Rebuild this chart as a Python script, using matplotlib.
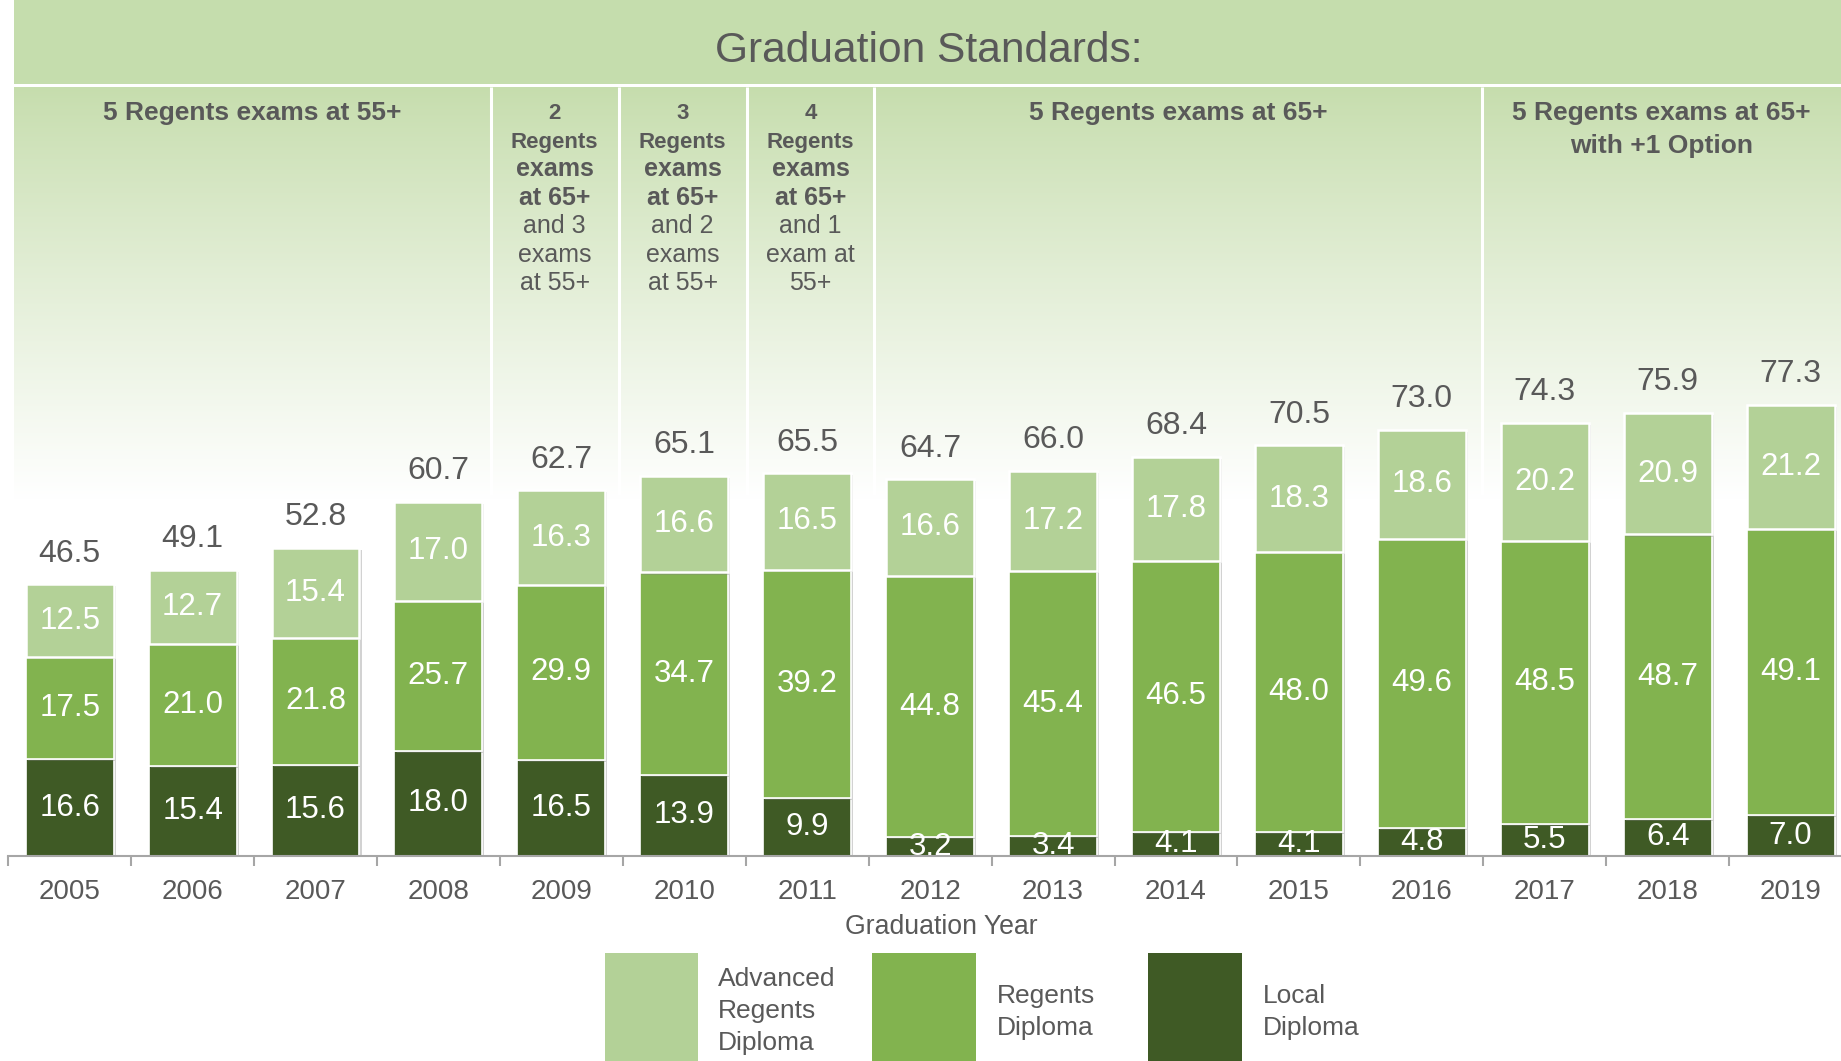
import numpy as np
import matplotlib
matplotlib.use("Agg")
import matplotlib.pyplot as plt
from matplotlib.patches import Rectangle
from matplotlib import patheffects as pe

# ----------------- data -----------------
years = [2005, 2006, 2007, 2008, 2009, 2010, 2011, 2012, 2013, 2014, 2015, 2016, 2017, 2018, 2019]
local_diploma = [16.6, 15.4, 15.6, 18.0, 16.5, 13.9, 9.9, 3.2, 3.4, 4.1, 4.1, 4.8, 5.5, 6.4, 7.0]
regents_diploma = [17.5, 21.0, 21.8, 25.7, 29.9, 34.7, 39.2, 44.8, 45.4, 46.5, 48.0, 49.6, 48.5, 48.7, 49.1]
advanced_diploma = [12.5, 12.7, 15.4, 17.0, 16.3, 16.6, 16.5, 16.6, 17.2, 17.8, 18.3, 18.6, 20.2, 20.9, 21.2]
totals = [46.5, 49.1, 52.8, 60.7, 62.7, 65.1, 65.5, 64.7, 66.0, 68.4, 70.5, 73.0, 74.3, 75.9, 77.3]

series_names = ["Advanced\nRegents\nDiploma", "Regents\nDiploma", "Local\nDiploma"]

title_text = "Graduation Standards:"
wide_headers = ["5 Regents exams at 55+", "5 Regents exams at 65+", "5 Regents exams at 65+\nwith +1 Option"]
narrow_headers = [
    (["2", "Regents", "exams", "at 65+"], ["and 3", "exams", "at 55+"]),
    (["3", "Regents", "exams", "at 65+"], ["and 2", "exams", "at 55+"]),
    (["4", "Regents", "exams", "at 65+"], ["and 1", "exam at", "55+"]),
]

# ----------------- style -----------------
plt.rcParams['font.family'] = ['Liberation Sans', 'DejaVu Sans']
c_adv = '#b3d197'
c_reg = '#82b34f'
c_loc = '#3f5a25'
c_band = '#c5ddad'
c_text = '#595959'

W, H = 1841, 1061
base_px = 856          # baseline row in pixels
px_per_unit = 5.835    # vertical pixels per percentage point

fig = plt.figure(figsize=(W / 100, H / 100), dpi=100)
ax = fig.add_axes([8.2 / W, (H - base_px) / H, 1 - 8.2 / W, base_px / H])
xmax = 14.41
ytop = base_px / px_per_unit
ax.set_xlim(-0.5, xmax)
ax.set_ylim(0, ytop)

def py(row):
    # pixel row -> data y
    return (base_px - row) / px_per_unit

# header band
band_left = -0.451
ax.add_patch(Rectangle((band_left, py(84)), xmax - band_left + 0.2, py(0) - py(84),
                       color=c_band, zorder=0, clip_on=False, lw=0))

# gradient cells under header, fading out to white
top_rgb = np.array([198, 221, 173]) / 255
bot_rgb = np.array([255, 255, 255]) / 255
t = np.linspace(0, 1, 256)[:, None] ** 0.9
grad = (top_rgb[None, :] * (1 - t) + bot_rgb[None, :] * t)[:, None, :]
ax.imshow(grad, extent=[band_left, xmax + 0.2, py(500), py(87)], aspect='auto', zorder=0,
          interpolation='bilinear')

# column separators of the header table
col_edges = [band_left, 3.425, 4.466, 5.507, 6.547, 11.486, xmax]
for xe in col_edges[1:-1]:
    ax.plot([xe, xe], [py(495), py(87)], color='white', lw=2.2, zorder=1, solid_capstyle='butt')

ax.text(6.99, py(62), title_text, ha='center', va='baseline', fontsize=30.6, color=c_text)

# wide headers
wide_cols = [(col_edges[0], col_edges[1]), (col_edges[4], col_edges[5]), (col_edges[5], col_edges[6])]
for (l, r), txt in zip(wide_cols, wide_headers):
    for k, line in enumerate(txt.split("\n")):
        ax.text((l + r) / 2, py(120 + 33 * k), line, ha='center', va='baseline',
                fontsize=19, fontweight='bold', color=c_text)

# narrow headers: bold lines followed by regular lines
for j, (bold_lines, reg_lines) in enumerate(narrow_headers):
    cx = (col_edges[1 + j] + col_edges[2 + j]) / 2
    row = 119
    for k, line in enumerate(bold_lines):
        ax.text(cx, py(row), line, ha='center', va='baseline',
                fontsize=16 if k < 2 else 18, fontweight='bold', color=c_text)
        row += 28.5
    for line in reg_lines:
        ax.text(cx, py(row), line, ha='center', va='baseline', fontsize=18, color=c_text)
        row += 28.5

# ----------------- bars -----------------
x = np.arange(len(years))
bw = 0.715
shadow = [pe.SimplePatchShadow(offset=(1.5, -1.5), shadow_rgbFace='#808080', alpha=0.35), pe.Normal()]
loc = np.array(local_diploma)
reg = np.array(regents_diploma)
adv = np.array(advanced_diploma)

b1 = ax.bar(x, loc, bw, color=c_loc, edgecolor='white', lw=1.2, zorder=3)
b2 = ax.bar(x, reg, bw, bottom=loc, color=c_reg, edgecolor='white', lw=1.2, zorder=3)
b3 = ax.bar(x, adv, bw, bottom=loc + reg, color=c_adv, edgecolor='white', lw=1.8, zorder=3)
for bars in (b1, b2, b3):
    for p in bars:
        p.set_path_effects(shadow)

for i in range(len(years)):
    ax.text(x[i], loc[i] / 2, f"{loc[i]:.1f}", ha='center', va='center', color='white',
            fontsize=22.5, zorder=5)
    ax.text(x[i], loc[i] + reg[i] / 2, f"{reg[i]:.1f}", ha='center', va='center', color='white',
            fontsize=22.5, zorder=5)
    ax.text(x[i], loc[i] + reg[i] + adv[i] / 2, f"{adv[i]:.1f}", ha='center', va='center',
            color='white', fontsize=22.5, zorder=5)
    ax.annotate(f"{totals[i]:.1f}", (x[i], loc[i] + reg[i] + adv[i]), xytext=(0, 22),
                textcoords='offset points', ha='center', va='center', fontsize=23,
                color=c_text, zorder=5)

# ----------------- axes -----------------
for s in ['top', 'right', 'left']:
    ax.spines[s].set_visible(False)
ax.spines['bottom'].set_color('#a6a6a6')
ax.spines['bottom'].set_linewidth(1.5)
ax.spines['bottom'].set_zorder(4)
ax.set_yticks([])
ax.set_xticks(x)
ax.set_xticklabels([str(y) for y in years], fontsize=20, color=c_text)
ax.set_xticks(np.arange(-0.5, xmax, 1.0), minor=True)
ax.tick_params(axis='x', which='major', length=0, pad=16.5)
ax.tick_params(axis='x', which='minor', length=7, width=1.5, color='#a6a6a6', direction='out')

fig.text(941.5 / W, 1 - 927.5 / H, "Graduation Year", ha='center', va='center',
         fontsize=19.2, color=c_text)

# ----------------- legend -----------------
leg_boxes = [(605, 698, 718), (872, 976, 997), (1148, 1242, 1263)]
leg_colors = [c_adv, c_reg, c_loc]
for (l, r, tx), col, name in zip(leg_boxes, leg_colors, series_names):
    fig.add_artist(Rectangle((l / W, 0), (r - l) / W, 1 - 953 / H, transform=fig.transFigure,
                             color=col, lw=0))
    lines = name.split("\n")
    start = 979 if len(lines) == 3 else 996
    for k, line in enumerate(lines):
        fig.text(tx / W, 1 - (start + 32 * k) / H, line, ha='left', va='center',
                 fontsize=19, color=c_text)

fig.savefig("out.png", dpi=100, facecolor='white')
